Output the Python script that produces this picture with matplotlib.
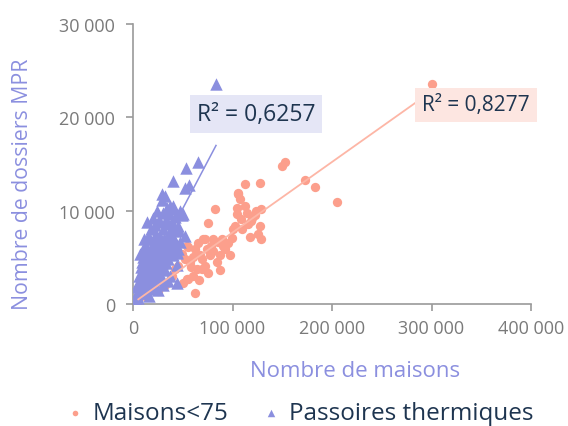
import matplotlib
matplotlib.use("Agg")
import matplotlib.pyplot as plt
from matplotlib.ticker import FuncFormatter, MultipleLocator
import numpy as np

plt.rcParams['font.family'] = ['Open Sans', 'DejaVu Sans']

# Maisons<75 : (nombre de maisons, nombre de dossiers MPR)
maisons_x = [300000, 149400, 153000, 172900, 183000, 204700, 112600, 127600, 105900, 107500,
             112600, 82400, 75700, 124000, 129000, 119000, 127600, 126000, 129000, 104000,
             102500, 100800, 99000, 109000, 116000, 122600, 70700, 80700, 89000, 92500,
             97500, 87400, 84000, 74000, 67300, 62300, 54000, 77400, 57300, 72400,
             64000, 54000, 62300, 50600, 60600, 69000, 80700, 87400, 72400, 55600,
             52300, 42200, 38900, 55600, 32200, 25400, 12000, 5300, 45500, 69000,
             49000, 115000, 120000, 110000, 118000, 105000, 95000, 90000, 85000, 65000,
             60000, 75000, 66000, 58000, 78000, 105500]
maisons_y = [23600, 14800, 15200, 13300, 12500, 10900, 12900, 13000, 11900, 11200,
             10500, 10200, 8700, 10000, 10200, 8900, 8400, 7500, 7000, 9600,
             8400, 8000, 7100, 9100, 8600, 9500, 7000, 7000, 7000, 5900,
             5200, 3600, 4500, 5900, 5200, 5900, 6200, 5200, 4500, 4100,
             3700, 2700, 1200, 2300, 3000, 4800, 5700, 5200, 7000, 6100,
             4800, 3700, 3000, 2700, 2000, 1400, 900, 350, 4100, 3750,
             5400, 9800, 9200, 8000, 7200, 10300, 6500, 6200, 6600, 6500,
             5000, 3300, 2600, 4000, 6200, 11800]

# Passoires thermiques
passoires_x = [83400, 65600, 53300, 40500, 56600, 52000, 28800, 28800, 32200, 13800,
               37200, 47200, 48900, 38800, 50600, 45500, 45500, 52300, 43900, 45500,
               8700, 7000, 22000, 32200, 27100, 38800, 43900, 300, 25400,
               2000, 4000, 5000, 6000, 8000, 9000, 10000, 11000, 12000, 13000,
               14000, 15000, 16000, 17000, 18000, 19000, 20000, 21000, 22000, 23000,
               24000, 25000, 26000, 27000, 28000, 29000, 30000, 31000, 32000, 33000,
               34000, 35000, 36000, 37000, 38000, 39000, 40000, 41000, 42000, 43000,
               44000, 46000, 47000, 15000, 12000, 10000, 18000, 20000, 24000, 26000,
               8000, 6000, 4000, 3000, 1000, 16000, 20000, 28000, 30000, 35000,
               11000, 14000, 17000, 22000, 34000, 36000, 40000, 30000, 21000, 25000,
               10400, 19000, 23000, 27000, 31000, 33000, 9000, 13000,
               7000, 9500, 12500, 14500, 16500, 18500, 21500, 23500, 26500, 29500,
               32500, 35500, 38500, 41500, 44500, 11500, 15500, 19500, 24500, 28500,
               33500, 37500, 42500, 5000, 7500, 17500, 22500, 27500, 31500, 36500]
passoires_y = [23600, 15200, 14600, 13200, 12700, 12400, 11800, 11100, 11600, 8750,
               10500, 10000, 9500, 10200, 9600, 8400, 8000, 7300, 5500, 5900,
               5500, 5400, 6800, 6800, 8750, 8750, 2300, 200, 7000,
               500, 1000, 600, 1500, 2000, 1200, 3000, 2200, 4000, 1500,
               3200, 5000, 2500, 4200, 6000, 3500, 5500, 2800, 4500, 7500,
               3800, 6200, 5000, 2600, 7000, 4400, 8000, 5800, 3600, 9000,
               6500, 4800, 7600, 3000, 6000, 8200, 5200, 7000, 9300, 6400,
               4200, 7800, 6600, 7200, 6300, 5000, 8000, 9200, 10000, 9000,
               4000, 3000, 2000, 1000, 300, 900, 1800, 3000, 2000, 2500,
               7000, 6000, 7000, 8500, 10300, 9600, 10500, 9800, 3500, 1500,
               3000, 5000, 6000, 4000, 7000, 5000, 4500, 5500,
               2500, 3500, 2800, 4600, 3800, 5200, 6400, 5800, 7200, 6600,
               5400, 8600, 7400, 6200, 5600, 1800, 2000, 2300, 4200, 5200,
               4400, 5400, 8000, 1800, 1200, 1600, 3000, 4800, 6200, 7000]

# courbes de tendance (pente, ordonnée) et R²
maisons_fit = (0.0756, 100)
passoires_fit = (0.2025, 100)
maisons_r2 = "R² = 0,8277"
passoires_r2 = "R² = 0,6257"

orange = '#fc9f8c'
orange_line = '#fdb6a6'
blue = '#8b8fdf'
navy = '#1e3550'
grey = '#7a7a7a'

fig = plt.figure(figsize=(5.68, 4.27), dpi=100)
ax = fig.add_axes([0.2342, 0.2857, 0.7007, 0.6557])

ax.scatter(maisons_x, maisons_y, s=45, color=orange, marker='o', linewidths=0,
           label='Maisons<75', zorder=2)
ax.scatter(passoires_x, passoires_y, s=80, color=blue, marker='^', linewidths=0,
           label='Passoires thermiques', zorder=3)

xm = np.array([min(maisons_x), max(maisons_x)])
ax.plot(xm, maisons_fit[0] * xm + maisons_fit[1], color=orange_line, lw=1.3, zorder=4)
xp = np.array([min(passoires_x), max(passoires_x)])
ax.plot(xp, passoires_fit[0] * xp + passoires_fit[1], color=blue, lw=1.1, zorder=4)

# positions en pixels depuis le bas
ax.text(256, 427 - 115, passoires_r2, transform=None, fontsize=16.5, color=navy,
        ha='center', va='center', zorder=5,
        bbox=dict(boxstyle='square,pad=0.3', fc='#e5e6f6', ec='none'))
ax.text(476, 427 - 106, maisons_r2, transform=None, fontsize=15, color=navy,
        ha='center', va='center', zorder=5,
        bbox=dict(boxstyle='square,pad=0.33', fc='#fde6e1', ec='none'))

ax.set_xlim(0, 400000)
ax.set_ylim(0, 30000)
ax.xaxis.set_major_locator(MultipleLocator(100000))
ax.yaxis.set_major_locator(MultipleLocator(10000))
fmt = FuncFormatter(lambda v, p: '{:,.0f}'.format(v).replace(',', ' '))
ax.xaxis.set_major_formatter(fmt)
ax.yaxis.set_major_formatter(fmt)

for s in ['top', 'right']:
    ax.spines[s].set_visible(False)
for s in ['left', 'bottom']:
    ax.spines[s].set_color('#9a9a9a')
    ax.spines[s].set_linewidth(1.2)
ax.tick_params(colors='#9a9a9a', labelcolor=grey, labelsize=13, length=5, width=1.2)
ax.tick_params(axis='x', pad=6)
ax.tick_params(axis='y', pad=8)

ax.set_xlabel('Nombre de maisons', fontsize=16, color=blue)
ax.xaxis.set_label_coords(0.558, -0.2)
ax.set_ylabel('Nombre de dossiers MPR', fontsize=15.3, color=blue)
ax.yaxis.set_label_coords(-0.251, 0.432)

leg = fig.legend(loc='center', bbox_to_anchor=(0.526, 0.03), ncol=2, frameon=False,
                 fontsize=17.5, handlelength=0.9, handletextpad=0.3, columnspacing=1.3,
                 markerscale=0.6)
for t in leg.get_texts():
    t.set_color(navy)

fig.savefig('out.png', dpi=100)
